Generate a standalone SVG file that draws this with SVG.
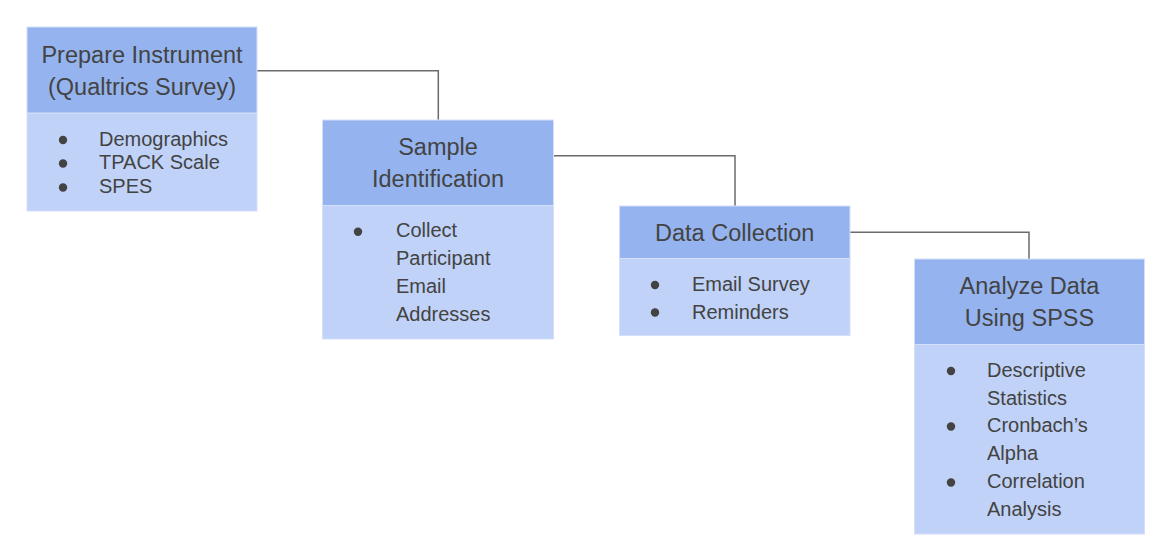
<svg xmlns="http://www.w3.org/2000/svg" width="1160" height="552" viewBox="0 0 1160 552">
  <style>
    .hd { fill: #95b4ef; stroke: #d4e0fa; stroke-width: 1; }
    .bd { fill: #c0d2f7; stroke: #d4e0fa; stroke-width: 1; }
    .ht { font-family: "Liberation Sans", Arial, sans-serif; font-size: 23.5px; fill: #434343; text-anchor: middle; }
    .bt { font-family: "Liberation Sans", Arial, sans-serif; font-size: 20px; fill: #434343; }
    .dot { fill: #434343; }
    .conn { fill: none; stroke: #6b6b6b; stroke-width: 1.5; }
  </style>
  <rect width="1160" height="552" fill="#ffffff"/>

  <g id="connectors">
    <path class="conn" d="M257,70.7 H438.3 V120"/>
    <path class="conn" d="M553,155.7 H735 V206"/>
    <path class="conn" d="M850,232.3 H1029 V259"/>
  </g>

  <g id="node-prepare">
    <rect class="bd" x="27" y="113" width="230" height="98"/>
    <rect class="hd" x="27" y="27" width="230" height="86"/>
    <text class="ht" x="142" y="63">Prepare Instrument</text>
    <text class="ht" x="142" y="95">(Qualtrics Survey)</text>
    <circle class="dot" cx="63" cy="140" r="4.2"/>
    <circle class="dot" cx="63" cy="163.5" r="4.2"/>
    <circle class="dot" cx="63" cy="187.5" r="4.2"/>
    <text class="bt" x="99" y="145.5">Demographics</text>
    <text class="bt" x="99" y="169">TPACK Scale</text>
    <text class="bt" x="99" y="193">SPES</text>
  </g>

  <g id="node-sample">
    <rect class="bd" x="322.5" y="205.5" width="231" height="133.5"/>
    <rect class="hd" x="322.5" y="120" width="231" height="85.5"/>
    <text class="ht" x="438" y="155">Sample</text>
    <text class="ht" x="438" y="187">Identification</text>
    <circle class="dot" cx="358" cy="231.7" r="4.2"/>
    <text class="bt" x="396" y="237.3">Collect</text>
    <text class="bt" x="396" y="265.3">Participant</text>
    <text class="bt" x="396" y="293.3">Email</text>
    <text class="bt" x="396" y="321.3">Addresses</text>
  </g>

  <g id="node-collection">
    <rect class="bd" x="619.5" y="258.5" width="230.5" height="77"/>
    <rect class="hd" x="619.5" y="206" width="230.5" height="52.5"/>
    <text class="ht" x="734.7" y="240.7">Data Collection</text>
    <circle class="dot" cx="655" cy="285" r="4.2"/>
    <circle class="dot" cx="655" cy="312.5" r="4.2"/>
    <text class="bt" x="692" y="291">Email Survey</text>
    <text class="bt" x="692" y="318.5">Reminders</text>
  </g>

  <g id="node-analyze">
    <rect class="bd" x="914.5" y="344.5" width="230" height="189.5"/>
    <rect class="hd" x="914.5" y="259" width="230" height="85.5"/>
    <text class="ht" x="1029.5" y="294">Analyze Data</text>
    <text class="ht" x="1029.5" y="326">Using SPSS</text>
    <circle class="dot" cx="951" cy="371" r="4.2"/>
    <circle class="dot" cx="951" cy="426.5" r="4.2"/>
    <circle class="dot" cx="951" cy="482.5" r="4.2"/>
    <text class="bt" x="987" y="376.7">Descriptive</text>
    <text class="bt" x="987" y="404.5">Statistics</text>
    <text class="bt" x="987" y="432.3">Cronbach’s</text>
    <text class="bt" x="987" y="460">Alpha</text>
    <text class="bt" x="987" y="488">Correlation</text>
    <text class="bt" x="987" y="515.7">Analysis</text>
  </g>
</svg>
